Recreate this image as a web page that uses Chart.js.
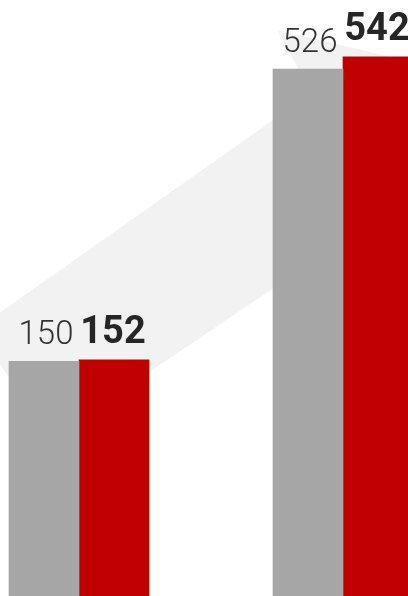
<!DOCTYPE html>
<html>
<head>
<meta charset="utf-8">
<script src="https://cdn.jsdelivr.net/npm/chart.js@4.4.1/dist/chart.umd.min.js"></script>
<style>
    html, body { margin: 0; padding: 0; background: #fff; }
    #wrap { width: 408px; height: 596px; position: relative; }
</style>
</head>
<body>
<div id="wrap"><canvas id="bar-chart"></canvas></div>
<script>
const categories = ['A', 'B'];
const previousValues = [150, 526];
const currentValues = [152, 542];
const yMin = -152;
const yMax = 615;

const greyColor = '#a6a6a6';
const redColor = '#c00000';
const bandColor = '#f2f2f2';

// light grey ribbon behind the bars, going from the first group to the second
const bandPlugin = {
    id: 'band',
    beforeDatasetsDraw(chart) {
        const grey = chart.getDatasetMeta(0).data;
        const red = chart.getDatasetMeta(1).data;
        if (!grey.length || !red.length) return;
        const w = grey[0].width;
        const g1L = grey[0].x - w / 2;
        const g1T = grey[0].y;
        const g2L = grey[1].x - w / 2;
        const g2T = grey[1].y;
        const g2R = red[1].x + w / 2;

        const ctx = chart.ctx;
        ctx.save();
        ctx.fillStyle = bandColor;
        ctx.beginPath();
        ctx.moveTo(g1L - 33, g1T - 32);
        ctx.lineTo(g2L + 38, g2T + 24);
        ctx.lineTo(g2L + 5, g2T - 39);
        ctx.lineTo(g2R + 12, g2T - 4);
        ctx.lineTo(g2R + 12, g2T + 117);
        ctx.lineTo(g1L + 42, g1T + 77);
        ctx.closePath();
        ctx.fill();
        ctx.restore();
    }
};

const valueLabels = {
    id: 'valueLabels',
    afterDatasetsDraw(chart) {
        const ctx = chart.ctx;
        ctx.save();
        ctx.textAlign = 'center';
        ctx.textBaseline = 'alphabetic';
        chart.data.datasets.forEach(function(ds, i) {
            const meta = chart.getDatasetMeta(i);
            meta.data.forEach(function(bar, j) {
                if (i === 0) {
                    ctx.font = '300 33px Roboto, "Noto Sans", sans-serif';
                    ctx.fillStyle = '#333333';
                } else {
                    ctx.font = 'bold 38px Roboto, "Noto Sans", sans-serif';
                    ctx.fillStyle = '#262626';
                }
                ctx.fillText(String(ds.data[j]), bar.x + (i === 0 ? 2 : -1), bar.y - 17);
            });
        });
        ctx.restore();
    }
};

const ctx = document.getElementById('bar-chart').getContext('2d');

const barChart = new Chart(ctx, {
    type: 'bar',
    data: {
        labels: categories,
        datasets: [{
            label: 'Previous',
            data: previousValues,
            backgroundColor: greyColor,
            barThickness: 70,
            base: yMin,
            clip: false
        }, {
            label: 'Current',
            data: currentValues,
            backgroundColor: redColor,
            barThickness: 70,
            base: yMin,
            clip: false
        }]
    },
    options: {
        responsive: true,
        maintainAspectRatio: false,
        animation: false,
        layout: {
            padding: { left: 79, right: 65, top: 0, bottom: 0 }
        },
        plugins: {
            legend: { display: false },
            tooltip: { enabled: false }
        },
        scales: {
            x: {
                display: false,
                offset: false
            },
            y: {
                display: false,
                min: yMin,
                max: yMax
            }
        }
    },
    plugins: [bandPlugin, valueLabels]
});
</script>
</body>
</html>
